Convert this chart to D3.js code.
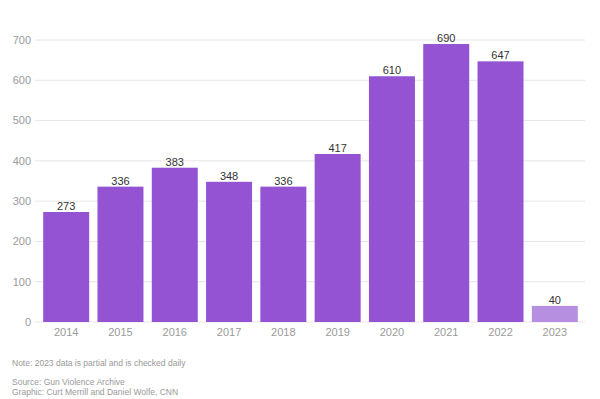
<!DOCTYPE html>
<html>
<head>
<meta charset="utf-8">
<script src="https://cdn.jsdelivr.net/npm/d3@7"></script>
<style>
  body { margin: 0; background: #fff; }
  svg { display: block; font-family: "Liberation Sans", Arial, sans-serif; }
</style>
</head>
<body>
<svg id="chart"></svg>
<script>
// data
const years = ["2014", "2015", "2016", "2017", "2018", "2019", "2020", "2021", "2022", "2023"];
const counts = [273, 336, 383, 348, 336, 417, 610, 690, 647, 40];
const partialYear = "2023";
const yTicks = [0, 100, 200, 300, 400, 500, 600, 700];
const notes = [
  "Note: 2023 data is partial and is checked daily",
  "Source: Gun Violence Archive",
  "Graphic: Curt Merrill and Daniel Wolfe, CNN"
];

const width = 600, height = 399;
const margin = { top: 40, right: 18, bottom: 77, left: 39 };

const svg = d3.select('#chart')
  .attr('width', width)
  .attr('height', height);

const data = years.map((y, i) => ({ year: y, count: counts[i] }));

const x = d3.scaleBand()
  .domain(years)
  .range([margin.left, width - margin.right])
  .paddingInner(0.153)
  .paddingOuter(0.077);

const y = d3.scaleLinear()
  .domain([0, 700])
  .range([height - margin.bottom, margin.top]);

// gridlines + y labels
const grid = svg.append('g')
  .selectAll('g')
  .data(yTicks)
  .enter()
  .append('g')
  .attr('transform', d => `translate(0,${y(d)})`);

grid.append('line')
  .attr('x1', 35)
  .attr('x2', 585)
  .attr('stroke', '#e6e6e6')
  .attr('stroke-width', 1);

grid.append('text')
  .attr('x', 31)
  .attr('dy', '0.35em')
  .attr('text-anchor', 'end')
  .attr('fill', '#9a9a9a')
  .attr('font-size', 11)
  .text(d => d);

// bars
const bar = svg.append('g')
  .selectAll('g')
  .data(data)
  .enter()
  .append('g');

bar.append('rect')
  .attr('x', d => x(d.year))
  .attr('y', d => y(d.count))
  .attr('width', x.bandwidth())
  .attr('height', d => y(0) - y(d.count))
  .attr('fill', d => d.year === partialYear ? '#b68fe1' : '#9353d2');

bar.append('text')
  .attr('x', d => x(d.year) + x.bandwidth() / 2)
  .attr('y', d => y(d.count) - 2)
  .attr('text-anchor', 'middle')
  .attr('fill', '#333')
  .attr('font-size', 11)
  .text(d => d.count);

// x labels
svg.append('g')
  .selectAll('text')
  .data(years)
  .enter()
  .append('text')
  .attr('x', d => x(d) + x.bandwidth() / 2)
  .attr('y', y(0) + 14)
  .attr('text-anchor', 'middle')
  .attr('fill', '#9a9a9a')
  .attr('font-size', 11)
  .text(d => d);

// notes
svg.append('g')
  .selectAll('text')
  .data(notes)
  .enter()
  .append('text')
  .attr('x', 12)
  .attr('y', (d, i) => [366, 385, 395][i])
  .attr('fill', '#999')
  .attr('font-size', 8.5)
  .text(d => d);
</script>
</body>
</html>
